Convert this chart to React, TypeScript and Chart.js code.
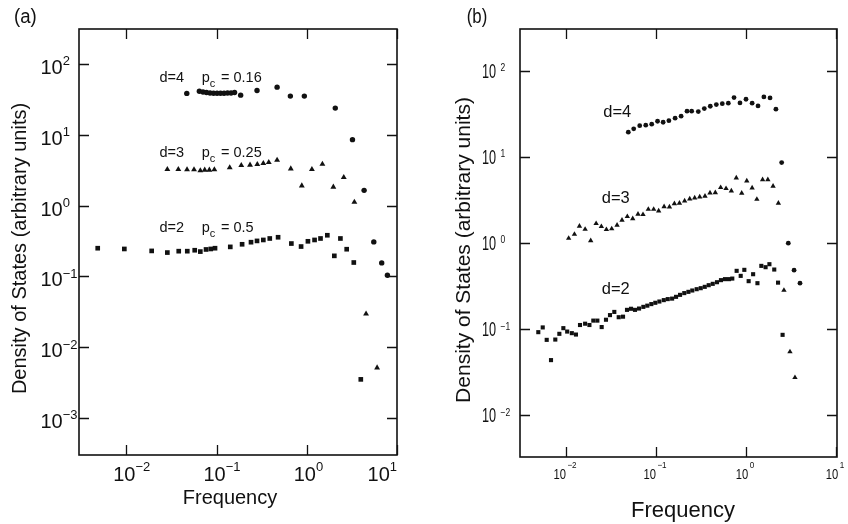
import React, { useEffect, useRef } from 'react';
import { Chart, registerables } from 'chart.js';

Chart.register(...registerables);

const FONT = '"Liberation Sans", Arial, Helvetica, sans-serif';
const INK = '#111111';

// ---------------- Panel (a) data ----------------
const aXTickExps = [-2, -1, 0, 1];
const aYTickExps = [2, 1, 0, -1, -2, -3];

const aD4Freq = [0.0468, 0.0645, 0.0708, 0.0774, 0.0847, 0.0926, 0.1013, 0.1107, 0.1211, 0.1324, 0.1448, 0.1584, 0.185, 0.281, 0.469, 0.658, 0.94, 2.07, 3.21, 4.32, 5.53, 6.77, 7.83];
const aD4Dos = [38.4, 41.3, 40.2, 39.5, 39.0, 38.7, 38.7, 38.7, 38.7, 39.0, 39.0, 39.5, 36.3, 42.3, 47.1, 35.2, 35.2, 23.8, 8.53, 1.64, 0.307, 0.155, 0.104];

const aD3Freq = [0.0285, 0.0377, 0.0471, 0.0563, 0.0661, 0.074, 0.0832, 0.0946, 0.14, 0.188, 0.235, 0.283, 0.33, 0.379, 0.469, 0.665, 0.881, 1.14, 1.49, 1.97, 2.57, 3.37, 4.54, 6.02];
const aD3Dos = [3.25, 3.25, 3.22, 3.22, 3.12, 3.18, 3.18, 3.22, 3.44, 3.7, 3.74, 3.83, 3.95, 4.08, 4.4, 3.32, 1.91, 3.25, 3.86, 1.83, 2.51, 1.12, 0.0296, 0.00512];

const aD2Freq = [0.00482, 0.00951, 0.0191, 0.0285, 0.0381, 0.0474, 0.0573, 0.0661, 0.0765, 0.0863, 0.0962, 0.142, 0.192, 0.241, 0.281, 0.33, 0.389, 0.481, 0.675, 0.865, 1.03, 1.22, 1.42, 1.69, 2.02, 2.36, 2.77, 3.32, 3.97];
const aD2Dos = [0.25, 0.244, 0.229, 0.217, 0.227, 0.227, 0.234, 0.224, 0.24, 0.244, 0.25, 0.261, 0.284, 0.304, 0.317, 0.327, 0.343, 0.357, 0.291, 0.264, 0.313, 0.327, 0.343, 0.381, 0.195, 0.343, 0.242, 0.157, 0.00351];

// ---------------- Panel (b) data ----------------
const bXTickExps = [-2, -1, 0, 1];
const bYTickExps = [2, 1, 0, -1, -2];

const bD4Freq = [0.0492, 0.0565, 0.0659, 0.0769, 0.0896, 0.104, 0.12, 0.139, 0.163, 0.19, 0.221, 0.249, 0.295, 0.344, 0.401, 0.468, 0.545, 0.636, 0.736, 0.857, 1.0, 1.17, 1.36, 1.58, 1.85, 2.15, 2.49, 2.95, 3.42, 3.98];
const bD4Dos = [19.5, 21.3, 23.2, 23.5, 24.1, 26.1, 25.4, 26.5, 28.3, 29.9, 34.2, 34.2, 33.8, 36.6, 39.0, 40.8, 41.8, 42.3, 49.1, 42.6, 47.0, 42.3, 39.3, 50.0, 48.7, 36.0, 8.63, 1.0, 0.486, 0.343];

const bD3Freq = [0.0107, 0.0124, 0.0141, 0.0163, 0.0188, 0.0216, 0.0247, 0.0281, 0.0322, 0.0369, 0.0419, 0.048, 0.0551, 0.0631, 0.0717, 0.0821, 0.0942, 0.107, 0.123, 0.141, 0.16, 0.182, 0.208, 0.237, 0.269, 0.306, 0.35, 0.398, 0.456, 0.523, 0.6, 0.687, 0.78, 0.896, 1.02, 1.17, 1.32, 1.53, 1.75, 2.0, 2.29, 2.64, 3.08, 3.5];
const bD3Dos = [1.14, 1.27, 1.58, 1.45, 1.07, 1.69, 1.56, 1.44, 1.47, 1.62, 1.85, 2.04, 1.93, 2.17, 2.15, 2.48, 2.48, 2.37, 2.66, 2.64, 2.88, 2.92, 3.1, 3.27, 3.36, 3.45, 3.52, 3.84, 3.87, 4.43, 4.31, 4.05, 5.73, 3.81, 5.29, 4.39, 3.24, 5.48, 5.48, 4.59, 2.92, 0.284, 0.0547, 0.0275];

const bD2Freq = [0.00492, 0.00551, 0.0061, 0.00681, 0.0076, 0.00843, 0.00934, 0.0103, 0.0116, 0.0129, 0.0143, 0.0163, 0.0182, 0.0201, 0.0223, 0.0249, 0.0278, 0.0308, 0.0344, 0.0385, 0.043, 0.0476, 0.0528, 0.0584, 0.0648, 0.0723, 0.08, 0.0887, 0.0982, 0.109, 0.122, 0.135, 0.151, 0.167, 0.185, 0.206, 0.229, 0.253, 0.283, 0.314, 0.348, 0.385, 0.427, 0.476, 0.527, 0.584, 0.647, 0.704, 0.787, 0.873, 0.958, 1.07, 1.2, 1.34, 1.48, 1.65, 1.82, 2.06, 2.27, 2.55];
const bD2Dos = [0.0925, 0.105, 0.0753, 0.0438, 0.0759, 0.0885, 0.103, 0.094, 0.0901, 0.0868, 0.112, 0.116, 0.112, 0.126, 0.126, 0.106, 0.129, 0.146, 0.159, 0.138, 0.14, 0.168, 0.173, 0.168, 0.174, 0.182, 0.188, 0.196, 0.203, 0.21, 0.218, 0.224, 0.227, 0.238, 0.251, 0.263, 0.272, 0.282, 0.292, 0.3, 0.311, 0.325, 0.337, 0.352, 0.372, 0.382, 0.382, 0.388, 0.477, 0.417, 0.49, 0.362, 0.436, 0.343, 0.545, 0.526, 0.57, 0.494, 0.348, 0.0861];

const Y_TITLE = 'Density of States (arbitrary units)';
const X_TITLE = 'Frequency';

// ---------------- helpers ----------------
const pts = (xs: number[], ys: number[]) => xs.map((x, i) => ({ x, y: ys[i] }));
const fontStr = (size: number) => `${size}px ${FONT}`;
const expStr = (e: number) => (e < 0 ? '\u2212' + Math.abs(e) : String(e));

function measure(ctx: CanvasRenderingContext2D, s: string, size: number, sx: number) {
  ctx.save();
  ctx.font = fontStr(size);
  const w = ctx.measureText(s).width * sx;
  ctx.restore();
  return w;
}

function drawText(
  ctx: CanvasRenderingContext2D,
  s: string,
  x: number,
  y: number,
  size: number,
  sx = 1,
  align: CanvasTextAlign = 'left',
  baseline: CanvasTextBaseline = 'alphabetic',
  rot = 0
) {
  ctx.save();
  ctx.font = fontStr(size);
  ctx.fillStyle = INK;
  ctx.textAlign = align;
  ctx.textBaseline = baseline;
  ctx.translate(x, y);
  if (rot) ctx.rotate(rot);
  ctx.scale(sx, 1);
  ctx.fillText(s, 0, 0);
  ctx.restore();
}

type PowStyle = { size: number; sx: number; supSize: number; supSx: number; gap: number };

type NotePart = { text: string; x: number; y: number; size: number; sub?: boolean };

type DecorCfg = {
  xExps: number[];
  yExps: number[];
  tickLen: number;
  xPow: PowStyle;
  xBaseDy: number;
  xSupDy: number;
  xCenterBaseOnly: boolean;
  xShift: number;
  xClampRight: boolean;
  yPow: PowStyle;
  yLeftOff: number;
  yBaseDy: number;
  ySupDy: number;
  panel: { text: string; x: number; y: number; size: number; sx: number };
  xTitle: { x: number; y: number; size: number };
  yTitle: { x: number; y: number; size: number };
  notes: NotePart[];
};

function makeDecor(cfg: DecorCfg) {
  return {
    id: 'panelDecor',
    afterDraw(chart: any) {
      const ctx: CanvasRenderingContext2D = chart.ctx;
      const ca = chart.chartArea;
      const xs = chart.scales.x;
      const ys = chart.scales.y;
      ctx.save();
      ctx.strokeStyle = INK;
      // frame
      ctx.lineWidth = 1.6;
      ctx.strokeRect(ca.left, ca.top, ca.right - ca.left, ca.bottom - ca.top);
      // inward ticks on all four sides
      ctx.lineWidth = 1.3;
      ctx.beginPath();
      cfg.xExps.forEach((e) => {
        const px = Math.round(xs.getPixelForValue(Math.pow(10, e))) + 0.5;
        ctx.moveTo(px, ca.bottom);
        ctx.lineTo(px, ca.bottom - cfg.tickLen);
        ctx.moveTo(px, ca.top);
        ctx.lineTo(px, ca.top + cfg.tickLen);
      });
      cfg.yExps.forEach((e) => {
        const py = Math.round(ys.getPixelForValue(Math.pow(10, e))) + 0.5;
        ctx.moveTo(ca.left, py);
        ctx.lineTo(ca.left + cfg.tickLen, py);
        ctx.moveTo(ca.right, py);
        ctx.lineTo(ca.right - cfg.tickLen, py);
      });
      ctx.stroke();
      ctx.restore();

      // x tick labels 10^e
      const xp = cfg.xPow;
      cfg.xExps.forEach((e) => {
        const px = xs.getPixelForValue(Math.pow(10, e));
        const es = expStr(e);
        const wb = measure(ctx, '10', xp.size, xp.sx);
        const we = measure(ctx, es, xp.supSize, xp.supSx);
        const total = wb + xp.gap + we;
        let left = cfg.xCenterBaseOnly ? px + cfg.xShift - wb / 2 : px + cfg.xShift - total / 2;
        if (cfg.xClampRight) left = Math.min(left, ca.right - total);
        drawText(ctx, '10', left, ca.bottom + cfg.xBaseDy, xp.size, xp.sx);
        drawText(ctx, es, left + wb + xp.gap, ca.bottom + cfg.xSupDy, xp.supSize, xp.supSx);
      });

      // y tick labels 10^e
      const yp = cfg.yPow;
      cfg.yExps.forEach((e) => {
        const py = ys.getPixelForValue(Math.pow(10, e));
        const es = expStr(e);
        const wb = measure(ctx, '10', yp.size, yp.sx);
        const left = ca.left - cfg.yLeftOff;
        drawText(ctx, '10', left, py + cfg.yBaseDy, yp.size, yp.sx);
        drawText(ctx, es, left + wb + yp.gap, py + cfg.ySupDy, yp.supSize, yp.supSx);
      });

      // axis titles
      drawText(ctx, X_TITLE, cfg.xTitle.x, cfg.xTitle.y, cfg.xTitle.size, 1, 'center');
      drawText(ctx, Y_TITLE, cfg.yTitle.x, cfg.yTitle.y, cfg.yTitle.size, 1, 'center', 'alphabetic', -Math.PI / 2);

      // panel label
      drawText(ctx, cfg.panel.text, cfg.panel.x, cfg.panel.y, cfg.panel.size, cfg.panel.sx);

      // annotations
      cfg.notes.forEach((n) => drawText(ctx, n.text, n.x, n.y, n.size));
    },
  };
}

function ds(data: { x: number; y: number }[], style: string, r: number) {
  return {
    data,
    pointStyle: style,
    pointRadius: r,
    pointHoverRadius: r,
    pointBackgroundColor: INK,
    pointBorderColor: INK,
    pointBorderWidth: 0,
    showLine: false,
  };
}

function pcNote(d: string, pc: string, baseline: number, dx: number, px: number, ex: number, size: number): NotePart[] {
  return [
    { text: d, x: dx, y: baseline, size },
    { text: 'p', x: px, y: baseline, size },
    { text: 'c', x: px + 8, y: baseline + 5, size: 11, sub: true },
    { text: '= ' + pc, x: ex, y: baseline, size },
  ];
}

const cfgA: DecorCfg = {
  xExps: aXTickExps,
  yExps: aYTickExps,
  tickLen: 10,
  xPow: { size: 20, sx: 1, supSize: 13, supSx: 1, gap: 0 },
  xBaseDy: 26.3,
  xSupDy: 16.3,
  xCenterBaseOnly: true,
  xShift: -2,
  xClampRight: true,
  yPow: { size: 20, sx: 1, supSize: 13, supSx: 1, gap: 0 },
  yLeftOff: 38.5,
  yBaseDy: 10,
  ySupDy: 1.5,
  panel: { text: '(a)', x: 14, y: 22.5, size: 20, sx: 0.93 },
  xTitle: { x: 230, y: 503.5, size: 20 },
  yTitle: { x: 25.5, y: 248.5, size: 20 },
  notes: [
    ...pcNote('d=4', '0.16', 81.7, 159.5, 201.7, 221, 14.5),
    ...pcNote('d=3', '0.25', 156.5, 159.5, 201.7, 221, 14.5),
    ...pcNote('d=2', '0.5', 232, 159.5, 201.7, 221, 14.5),
  ],
};

const cfgB: DecorCfg = {
  xExps: bXTickExps,
  yExps: bYTickExps,
  tickLen: 10,
  xPow: { size: 14, sx: 0.8, supSize: 9, supSx: 0.9, gap: 1.5 },
  xBaseDy: 21.7,
  xSupDy: 11,
  xCenterBaseOnly: false,
  xShift: -1,
  xClampRight: false,
  yPow: { size: 19.5, sx: 0.65, supSize: 10, supSx: 0.85, gap: 4.5 },
  yLeftOff: 38,
  yBaseDy: 7,
  ySupDy: 0.3,
  panel: { text: '(b)', x: 42.7, y: 22.7, size: 21, sx: 0.8 },
  xTitle: { x: 259, y: 516.5, size: 22 },
  yTitle: { x: 46, y: 250, size: 21 },
  notes: [
    { text: 'd=4', x: 179.3, y: 116.7, size: 16.5 },
    { text: 'd=3', x: 177.7, y: 203.3, size: 16.5 },
    { text: 'd=2', x: 177.7, y: 294, size: 16.5 },
  ],
};

function buildConfig(
  datasets: any[],
  xr: [number, number],
  yr: [number, number],
  padding: { left: number; top: number; right: number; bottom: number },
  decor: DecorCfg
) {
  return {
    type: 'scatter' as const,
    data: { datasets },
    options: {
      responsive: false,
      maintainAspectRatio: false,
      animation: false as const,
      events: [] as any[],
      layout: { padding },
      plugins: { legend: { display: false }, tooltip: { enabled: false } },
      scales: {
        x: { type: 'logarithmic' as const, min: xr[0], max: xr[1], display: false },
        y: { type: 'logarithmic' as const, min: yr[0], max: yr[1], display: false },
      },
    },
    plugins: [makeDecor(decor)],
  };
}

function Panel(props: { make: () => any; left: number }) {
  const ref = useRef<HTMLCanvasElement | null>(null);
  useEffect(() => {
    if (!ref.current) return;
    const chart = new Chart(ref.current, props.make());
    return () => chart.destroy();
  }, []);
  return (
    <canvas
      ref={ref}
      width={424}
      height={524}
      style={{ position: 'absolute', left: props.left, top: 0, width: 424, height: 524, display: 'block' }}
    />
  );
}

export default function App() {
  const makeA = () =>
    buildConfig(
      [
        ds(pts(aD4Freq, aD4Dos), 'circle', 2.7),
        ds(pts(aD3Freq, aD3Dos), 'triangle', 3.4),
        ds(pts(aD2Freq, aD2Dos), 'rect', 3.3),
      ],
      [0.00299, 10.0],
      [3.08e-4, 312],
      { left: 79, top: 29, right: 27, bottom: 69 },
      cfgA
    );
  const makeB = () =>
    buildConfig(
      [
        ds(pts(bD4Freq, bD4Dos), 'circle', 2.4),
        ds(pts(bD3Freq, bD3Dos), 'triangle', 3.1),
        ds(pts(bD2Freq, bD2Dos), 'rect', 2.9),
      ],
      [0.00308, 10.26],
      [0.00328, 307.8],
      { left: 96, top: 29, right: 11, bottom: 67 },
      cfgB
    );
  return (
    <div style={{ position: 'fixed', left: 0, top: 0, width: 848, height: 524, background: '#ffffff' }}>
      <Panel make={makeA} left={0} />
      <Panel make={makeB} left={424} />
    </div>
  );
}
